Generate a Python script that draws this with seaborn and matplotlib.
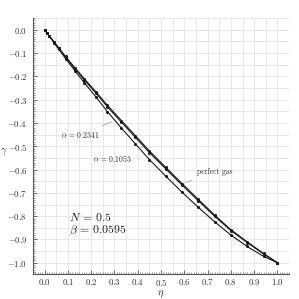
import numpy as np
import pandas as pd
import matplotlib
matplotlib.use("Agg")
import matplotlib.pyplot as plt
from matplotlib.ticker import MultipleLocator
import seaborn as sns

# values
eta = [0, 0.01, 0.02, 0.04, 0.06, 0.09, 0.13, 0.17, 0.22, 0.27, 0.33,
       0.39, 0.45, 0.52, 0.59, 0.66, 0.73, 0.80, 0.87, 0.94, 1.0]
gamma_perfect = [0, -0.013, -0.026, -0.052, -0.077, -0.115, -0.163, -0.210,
                 -0.266, -0.325, -0.390, -0.455, -0.520, -0.590, -0.660,
                 -0.728, -0.795, -0.858, -0.910, -0.960, -1.0]
gamma_a1053 = [0, -0.013, -0.027, -0.053, -0.079, -0.118, -0.167, -0.215,
               -0.272, -0.331, -0.397, -0.462, -0.527, -0.597, -0.666,
               -0.734, -0.800, -0.862, -0.913, -0.962, -1.0]
gamma_a2341 = [0, -0.014, -0.028, -0.056, -0.083, -0.124, -0.176, -0.227,
               -0.288, -0.352, -0.422, -0.490, -0.557, -0.628, -0.697,
               -0.762, -0.824, -0.881, -0.930, -0.972, -1.0]

df = pd.DataFrame({
    "eta": eta * 3,
    "gamma": gamma_perfect + gamma_a1053 + gamma_a2341,
    "case": ["perfect gas"] * len(eta) + ["a1053"] * len(eta) + ["a2341"] * len(eta),
})

sns.set_style("whitegrid")
plt.rcParams["font.family"] = ["cmr10"]
plt.rcParams["mathtext.fontset"] = "cm"
plt.rcParams["axes.formatter.use_mathtext"] = True

fig = plt.figure(figsize=(2.99, 2.99), dpi=100)
ax = fig.add_axes([0.11, 0.082, 0.857, 0.858])

for case, d in df.groupby("case"):
    sns.lineplot(data=d, x="eta", y="gamma", ax=ax, color="#1a1a1a",
                 linewidth=0.8, marker="o", markersize=2.2,
                 markeredgewidth=0, sort=False, legend=False)

ax.set_xlim(-0.05, 1.05)
ax.set_ylim(-1.05, 0.05)
ax.xaxis.set_major_locator(MultipleLocator(0.1))
ax.yaxis.set_major_locator(MultipleLocator(0.1))
ax.xaxis.set_minor_locator(MultipleLocator(0.01))
ax.yaxis.set_minor_locator(MultipleLocator(0.01))
ax.grid(False)
for v in np.arange(-0.05, 1.051, 0.05):
    ax.axvline(v, color="#e3e3e3", lw=0.6, zorder=0)
for v in np.arange(-1.05, 0.051, 0.05):
    ax.axhline(v, color="#e3e3e3", lw=0.6, zorder=0)

for s in ["top", "right"]:
    ax.spines[s].set_visible(False)
for s in ["left", "bottom"]:
    ax.spines[s].set_color("#555555")
    ax.spines[s].set_linewidth(0.8)
ax.tick_params(which="both", direction="in", colors="#555555", labelcolor="#333333",
               labelsize=6.4, left=True, bottom=True)
ax.tick_params(axis="x", pad=2)
ax.tick_params(axis="y", pad=4)
ax.tick_params(which="major", length=3, width=0.6)
ax.tick_params(which="minor", length=1.5, width=0.4)

ax.set_xlabel(r"$\eta$", fontsize=7.5, va="top")
ax.xaxis.set_label_coords(0.5, -0.056)
ax.set_ylabel(r"$\gamma$", fontsize=7.5, rotation=0, ha="center", va="center")
ax.yaxis.set_label_coords(-0.113, 0.48)

ax.annotate(r"$\alpha$ = 0.2341", xy=(0.30, -0.39), xytext=(0.07, -0.452),
            fontsize=5.5, color="#333333", va="center",
            arrowprops=dict(arrowstyle="-", color="#999999", lw=0.5))
ax.annotate(r"$\alpha$ = 0.1053", xy=(0.43, -0.50), xytext=(0.21, -0.551),
            fontsize=5.5, color="#333333", va="center",
            arrowprops=dict(arrowstyle="-", color="#999999", lw=0.5))
ax.annotate("perfect gas", xy=(0.595, -0.66), xytext=(0.655, -0.61),
            fontsize=5.5, color="#333333", va="center",
            arrowprops=dict(arrowstyle="-", color="#999999", lw=0.5))

ax.text(0.105, -0.805, r"$N$ = 0.5", fontsize=8.5, color="#222222", va="center")
ax.text(0.105, -0.865, r"$\beta$ = 0.0595", fontsize=8.5, color="#222222", va="center")

fig.savefig("out.png", dpi=100)
